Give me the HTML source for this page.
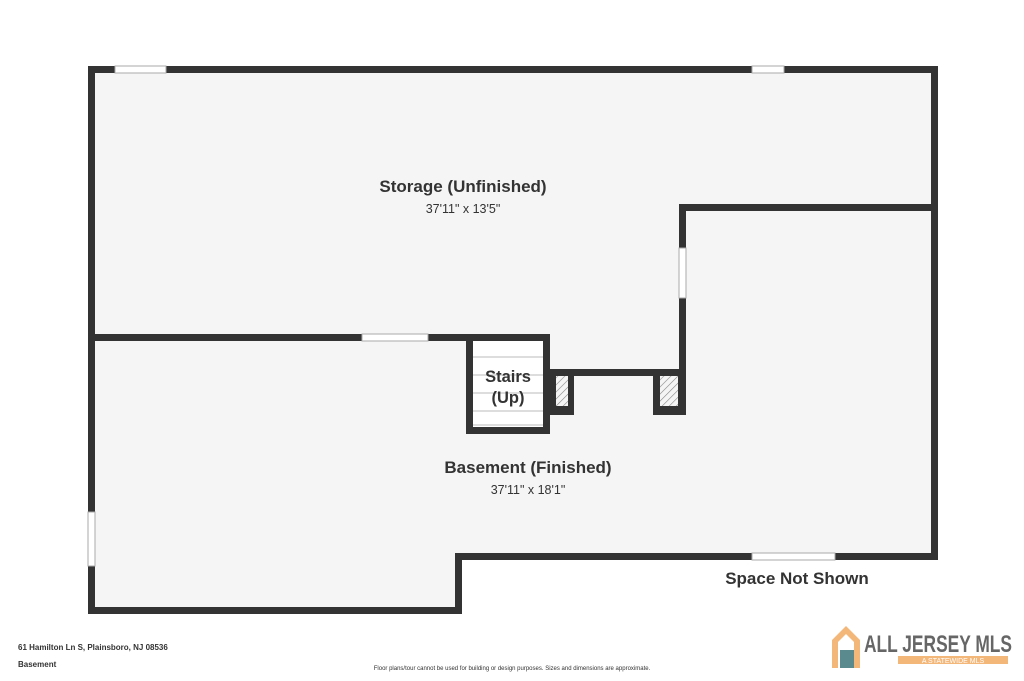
<!DOCTYPE html>
<html><head><style>body{margin:0;background:#fff}svg{display:block}</style></head><body>
<svg width="1024" height="681" xmlns="http://www.w3.org/2000/svg" font-family="Liberation Sans, sans-serif">
<defs><pattern id="h" width="5" height="5" patternUnits="userSpaceOnUse" patternTransform="rotate(45)"><line x1="0" y1="0" x2="0" y2="5" stroke="#888" stroke-width="1.2"/></pattern></defs>
<polygon points="91,70 935,70 935,556 459,556 459,611 91,611" fill="#f5f5f5"/>
<g fill="#333">
<rect x="88" y="66" width="850" height="7"/>
<rect x="88" y="66" width="7" height="548"/>
<rect x="931" y="66" width="7" height="494"/>
<rect x="455" y="553" width="483" height="7"/>
<rect x="455" y="553" width="7" height="61"/>
<rect x="88" y="607" width="374" height="7"/>
<rect x="95" y="334" width="455" height="7"/>
<rect x="466" y="334" width="7" height="100"/>
<rect x="543" y="334" width="7" height="100"/>
<rect x="466" y="427" width="84" height="7"/>
<rect x="550" y="369" width="136" height="7"/>
<rect x="550" y="369" width="24" height="46"/>
<rect x="653" y="369" width="33" height="46"/>
<rect x="679" y="204" width="7" height="172"/>
<rect x="679" y="204" width="259" height="7"/>
</g>
<rect x="556" y="376" width="12" height="30" fill="#f5f5f5"/><rect x="556" y="376" width="12" height="30" fill="url(#h)"/>
<rect x="660" y="376" width="18" height="30" fill="#f5f5f5"/><rect x="660" y="376" width="18" height="30" fill="url(#h)"/>
<g fill="#fff" stroke="#aaa" stroke-width="1">
<rect x="115" y="66" width="51" height="7"/><rect x="752" y="66" width="32" height="7"/>
<rect x="88" y="512" width="7" height="54"/><rect x="752" y="553" width="83" height="7"/>
<rect x="362" y="334" width="66" height="7"/><rect x="679" y="248" width="7" height="50"/>
</g>
<rect x="473" y="341" width="70" height="86" fill="#fff"/>
<g stroke="#bbb" stroke-width="1"><line x1="473" y1="357" x2="543" y2="357"/><line x1="473" y1="375" x2="543" y2="375"/><line x1="473" y1="393" x2="543" y2="393"/><line x1="473" y1="411" x2="543" y2="411"/><line x1="473" y1="425" x2="543" y2="425"/></g>
<g fill="#333" text-anchor="middle" font-weight="bold">
<text x="463" y="192" font-size="17">Storage (Unfinished)</text>
<text x="463" y="213" font-size="12.5" font-weight="normal">37'11" x 13'5"</text>
<text x="508" y="382" font-size="16.5">Stairs</text>
<text x="508" y="403" font-size="16.5">(Up)</text>
<text x="528" y="473" font-size="17">Basement (Finished)</text>
<text x="528" y="494" font-size="12.5" font-weight="normal">37'11" x 18'1"</text>
<text x="797" y="584" font-size="17">Space Not Shown</text>
</g>
<g fill="#333" font-size="8" font-weight="bold">
<text x="18" y="650">61 Hamilton Ln S, Plainsboro, NJ 08536</text>
<text x="18" y="667">Basement</text>
<text x="512" y="670" text-anchor="middle" font-weight="normal" font-size="6">Floor plans/tour cannot be used for building or design purposes. Sizes and dimensions are approximate.</text>
</g>
<polygon points="832,640 846,626 860,640 860,668 854,668 854,642 846,634 838,642 838,668 832,668" fill="#f4b77a"/>
<rect x="840" y="650" width="14" height="18" fill="#5a8a8e"/>
<text x="864" y="652" font-size="24" font-weight="bold" fill="#666" textLength="148" lengthAdjust="spacingAndGlyphs">ALL JERSEY MLS</text>
<rect x="898" y="656" width="110" height="8" fill="#f4b77a"/>
<text x="953" y="663" font-size="7" fill="#fff" text-anchor="middle">A STATEWIDE MLS</text>
</svg>
</body></html>
